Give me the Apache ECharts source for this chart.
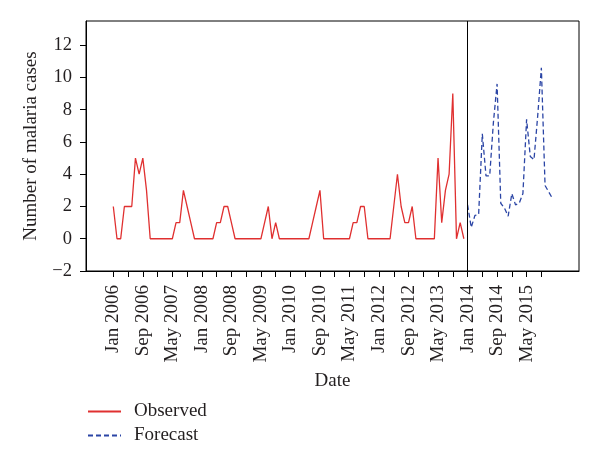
<!DOCTYPE html>
<html>
<head>
<meta charset="utf-8">
<script src="https://cdn.jsdelivr.net/npm/echarts@6/dist/echarts.min.js"></script>
<style>html,body{margin:0;padding:0;background:#fff}#c{width:600px;height:469px}</style>
</head>
<body>
<div id="c"></div>
<script>
// Month index 0 = Jan 2006
var observedStart = 0;
var observed = [2,0,0,2,2,2,5,4,5,3,0,0,0,0,0,0,0,1,1,3,2,1,0,0,0,0,0,0,1,1,2,2,1,0,0,0,0,0,0,0,0,1,2,0,1,0,0,0,0,0,0,0,0,0,1,2,3,0,0,0,0,0,0,0,0,1,1,2,2,0,0,0,0,0,0,0,2,4,2,1,1,2,0,0,0,0,0,0,5,1,3,4,9,0,1,0];
var forecastStart = 96;
var forecast = [2.1,0.7,1.45,1.5,6.5,3.9,3.9,7.2,9.6,2.2,1.9,1.4,2.8,2.1,2.2,2.8,7.4,5.1,4.9,7.6,10.6,3.3,2.9,2.5];
var tickMonths = [];
for (var t = 0; t <= 116; t += 4) tickMonths.push(t);
var labelMonths = [];
for (var l = 0; l <= 112; l += 8) labelMonths.push(l);
var yTicks = [-2,0,2,4,6,8,10,12];
var monthNames = ['Jan','Feb','Mar','Apr','May','Jun','Jul','Aug','Sep','Oct','Nov','Dec'];
var splitMonth = 96;

function pairs(start, arr){ return arr.map(function(v,i){ return [start+i, v]; }); }
var font = '"Liberation Serif", "Times New Roman", serif';
var txt = '#231f20';
var chart = echarts.init(document.getElementById('c'));
chart.setOption({
  animation: false,
  grid: {left: 86, right: 21, top: 21, bottom: 198, show: true, borderColor: '#000', borderWidth: 1},
  xAxis: {
    type: 'value', min: -7.4, max: 126.2,
    name: 'Date', nameLocation: 'middle', nameGap: 101,
    nameTextStyle: {fontFamily: font, fontSize: 19, color: txt},
    axisLine: {show: true, onZero: false, lineStyle: {color: '#000', width: 1}},
    axisTick: {show: true, length: 6, customValues: tickMonths, lineStyle: {color: '#000'}},
    axisLabel: {
      customValues: labelMonths, rotate: 90, margin: 14,
      fontFamily: font, fontSize: 19, color: txt,
      formatter: function(v){ return monthNames[v % 12] + ' ' + (2006 + Math.floor(v / 12)); }
    },
    splitLine: {show: false}
  },
  yAxis: {
    type: 'value', min: -2, max: 13.5,
    name: 'Number of malaria cases', nameLocation: 'middle', nameGap: 45, nameRotate: 90,
    nameTextStyle: {fontFamily: font, fontSize: 19, color: txt},
    axisLine: {show: true, onZero: false, lineStyle: {color: '#000', width: 1}},
    axisTick: {show: true, length: 6, customValues: yTicks, lineStyle: {color: '#000'}},
    axisLabel: {customValues: yTicks, margin: 14, fontFamily: font, fontSize: 18.5, color: txt,
      formatter: function(v){ return v < 0 ? '\u2212' + Math.abs(v) : String(v); }},
    splitLine: {show: false}
  },
  legend: {
    orient: 'vertical', left: 82, top: 397, itemWidth: 33, itemHeight: 14, itemGap: 5,
    textStyle: {fontFamily: font, fontSize: 19, color: txt, padding: [0, 0, 0, 8]},
    itemStyle: {opacity: 0},
    data: ['Observed', 'Forecast']
  },
  series: [
    {
      name: 'Observed', type: 'line', data: pairs(observedStart, observed),
      symbol: 'none', lineStyle: {color: '#e03030', width: 1.3}, itemStyle: {color: '#e03030'},
      markLine: {
        silent: true, symbol: ['none','none'], label: {show: false},
        lineStyle: {color: '#000', type: 'solid', width: 1},
        data: [{xAxis: splitMonth}]
      }
    },
    {
      name: 'Forecast', type: 'line', data: pairs(forecastStart, forecast),
      symbol: 'none', lineStyle: {color: '#2b45a5', width: 1.3, type: [5, 3]}, itemStyle: {color: '#2b45a5'}
    }
  ]
});
</script>
</body>
</html>
